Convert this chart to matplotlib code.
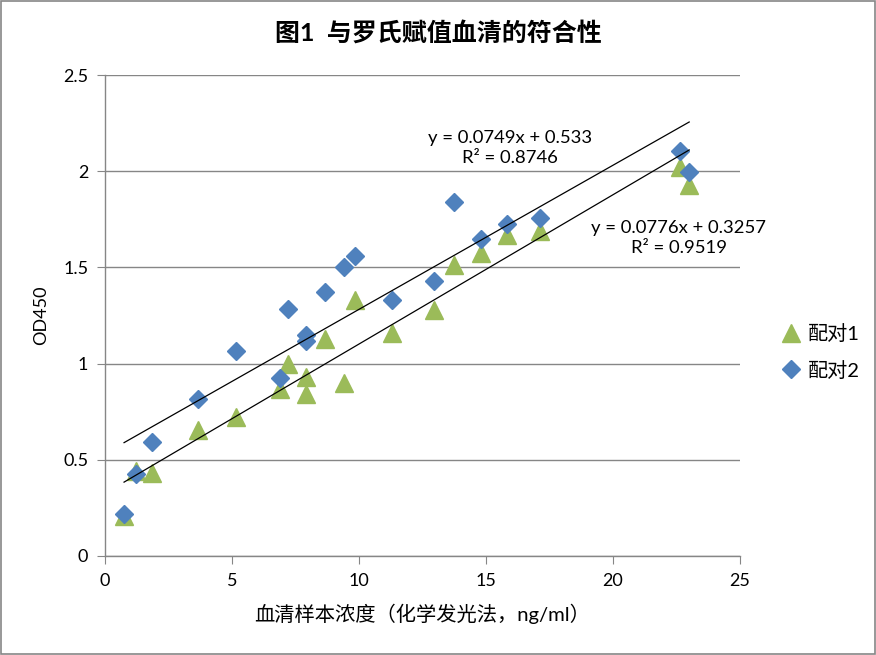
import numpy as np
import matplotlib
matplotlib.use("Agg")
import matplotlib.pyplot as plt
from matplotlib.patches import Rectangle

plt.rcParams['font.family'] = ['Lato', 'Noto Sans CJK SC', 'DejaVu Sans']

title = "图1  与罗氏赋值血清的符合性"
xlabel = "血清样本浓度（化学发光法，ng/ml）"
ylabel = "OD450"
series_names = ["配对1", "配对2"]

x_vals = [0.75, 1.22, 1.85, 3.66, 5.16, 6.9, 7.2, 7.9, 7.9, 8.66,
          9.4, 9.84, 11.3, 12.95, 13.74, 14.8, 15.83, 17.13, 22.64, 23.0]
y_pair1 = [0.21, 0.44, 0.43, 0.655, 0.72, 0.87, 1.0, 0.93, 0.84, 1.13,
           0.9, 1.33, 1.16, 1.28, 1.51, 1.575, 1.67, 1.69, 2.02, 1.93]
x_pair2 = [0.75, 1.22, 1.85, 3.66, 5.16, 6.9, 7.2, 7.9, 7.9, 8.66,
           9.4, 9.84, 11.3, 12.95, 13.74, 14.8, 15.83, 17.13, 22.64, 23.0]
y_pair2 = [0.22, 0.425, 0.59, 0.815, 1.065, 0.925, 1.285, 1.15, 1.12, 1.37,
           1.50, 1.56, 1.33, 1.43, 1.84, 1.65, 1.725, 1.755, 2.105, 1.995]

fit1 = (0.0776, 0.3257, 0.9519)
fit2 = (0.0749, 0.533, 0.8746)

xticks = [0, 5, 10, 15, 20, 25]
yticks = [0, 0.5, 1, 1.5, 2, 2.5]
ytick_labels = ["0", "0.5", "1", "1.5", "2", "2.5"]

green = "#9BBB59"
blue = "#4F81BD"
gray = "#868686"

fig = plt.figure(figsize=(8.76, 6.55), dpi=100)
fig.patches.append(Rectangle((0.0008, 0.001), 0.9984, 0.998, transform=fig.transFigure,
                             fill=False, edgecolor=gray, linewidth=1.2, zorder=10))
ax = fig.add_axes([105/876, 1-556/655, 635/876, 481/655])

ax.plot(x_vals, y_pair1, linestyle='none', marker='^', markersize=13,
        color=green, label=series_names[0], zorder=3)
ax.plot(x_pair2, y_pair2, linestyle='none', marker='D', markersize=9,
        color=blue, label=series_names[1], zorder=4)

for (m, b, r2), xs in ((fit1, x_vals), (fit2, x_pair2)):
    xx = np.array([min(xs), max(xs)])
    ax.plot(xx, m*xx + b, color='black', linewidth=0.9, zorder=5)

ax.text(15.93, 2.12, "y = %.4fx + %.3f\nR² = %.4f" % (fit2[0], fit2[1], fit2[2]),
        ha='center', va='center', fontsize=13.3, linespacing=1.3)
ax.text(22.58, 1.653, "y = %.4fx + %.4f\nR² = %.4f" % (fit1[0], fit1[1], fit1[2]),
        ha='center', va='center', fontsize=13.3, linespacing=1.3)

ax.set_xlim(0, 25)
ax.set_ylim(0, 2.5)
ax.set_xticks(xticks)
ax.set_xticklabels([str(t) for t in xticks])
ax.set_yticks(yticks)
ax.set_yticklabels(ytick_labels)
ax.yaxis.grid(True, color=gray, linewidth=1)
ax.set_axisbelow(True)
for s in ['top', 'right']:
    ax.spines[s].set_visible(False)
for s in ['left', 'bottom']:
    ax.spines[s].set_color(gray)
    ax.spines[s].set_linewidth(1)
ax.tick_params(axis='x', direction='out', length=6, color=gray, labelsize=13, pad=6)
ax.tick_params(axis='y', direction='out', length=6, color=gray, labelsize=13, pad=6)

ax.set_xlabel(xlabel, fontsize=14.6, labelpad=11)
ax.set_ylabel(ylabel, fontsize=13, labelpad=10)
fig.text(0.5, 1-33/655, title, ha='center', va='center', fontsize=18, fontweight='bold')

fig.legend(loc='center left', bbox_to_anchor=(758/876, 1-352/655), frameon=False,
           fontsize=14.5, handletextpad=0.1, labelspacing=0.85, handlelength=1.5)

fig.savefig("out.png", dpi=100)
